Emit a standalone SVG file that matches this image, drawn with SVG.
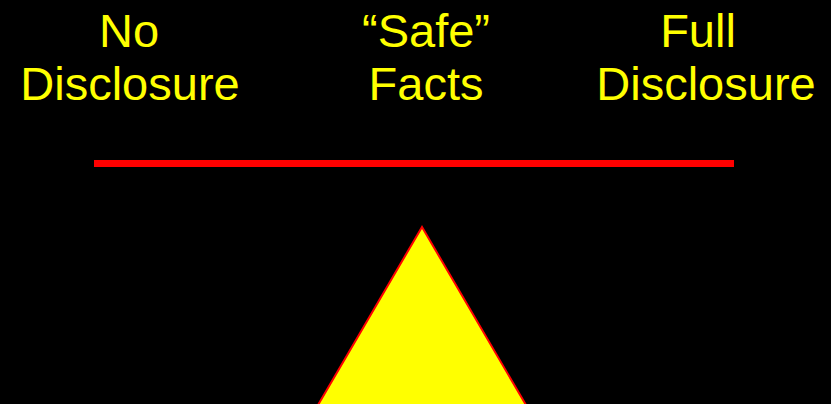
<svg xmlns="http://www.w3.org/2000/svg" width="831" height="404" viewBox="0 0 831 404">
<style>
.t{font-family:"Liberation Sans",Arial,sans-serif;font-size:47px;fill:#FFFF00;text-anchor:middle}
</style>
<rect width="831" height="404" fill="#000"/>
<g id="no-disclosure">
<text class="t" x="129" y="47">No</text>
<text class="t" x="130" y="100">Disclosure</text>
</g>
<g id="safe-facts">
<text class="t" x="426" y="47">“Safe”</text>
<text class="t" x="426" y="100">Facts</text>
</g>
<g id="full-disclosure">
<text class="t" x="698" y="47">Full</text>
<text class="t" x="706" y="100">Disclosure</text>
</g>
<g id="beam">
<rect x="94" y="160" width="640" height="7" fill="#FF0000"/>
</g>
<g id="fulcrum">
<polygon points="422,227 318,405 526,405" fill="#FFFF00" stroke="#FF0000" stroke-width="2"/>
</g>
</svg>
